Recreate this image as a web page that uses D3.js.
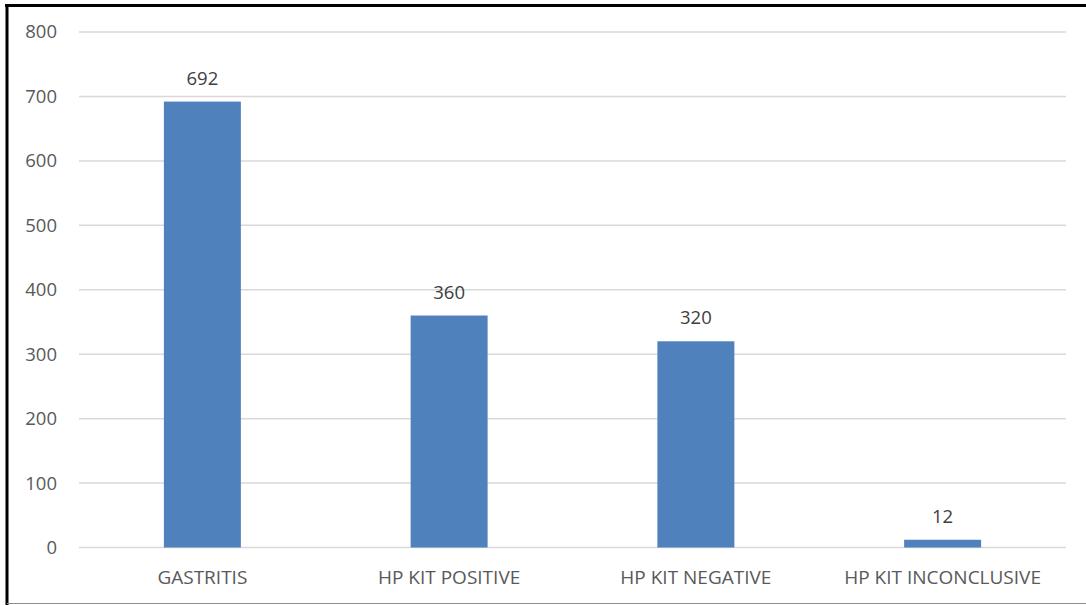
<!DOCTYPE html>
<html>
<head>
<meta charset="utf-8">
<script src="https://cdn.jsdelivr.net/npm/d3@7"></script>
<style>
  html, body { margin: 0; padding: 0; background: #fff; }
  svg { display: block; }
</style>
</head>
<body>
<svg id="chart" width="1086" height="605"></svg>
<script>
// Categories and counts
const categories = ["GASTRITIS", "HP KIT POSITIVE", "HP KIT NEGATIVE", "HP KIT INCONCLUSIVE"];
const counts = [692, 360, 320, 12];
const yTicks = [0, 100, 200, 300, 400, 500, 600, 700, 800];

const W = 1086, H = 605;
const plot = { left: 79, right: 1066, top: 32, bottom: 547.5 };
const font = "'Open Sans', 'Liberation Sans', sans-serif";

const svg = d3.select("#chart");

// Frame around the chart area
svg.append("rect").attr("x", 0).attr("y", 0).attr("width", W).attr("height", H).attr("fill", "#fff");
svg.append("line").attr("x1", 5).attr("x2", 1086).attr("y1", 5.5).attr("y2", 5.5)
  .attr("stroke", "#000").attr("stroke-width", 3);
svg.append("line").attr("x1", 7).attr("x2", 7).attr("y1", 4).attr("y2", 605)
  .attr("stroke", "#000").attr("stroke-width", 3);
svg.append("line").attr("x1", 7).attr("x2", 1086).attr("y1", 603.5).attr("y2", 603.5)
  .attr("stroke", "#8c8c8c").attr("stroke-width", 1);

const x = d3.scaleBand().domain(categories).range([plot.left, plot.right]).padding(0);
const y = d3.scaleLinear().domain([0, 800]).range([plot.bottom, plot.top]);
const barW = x.bandwidth() * 0.312;

// Horizontal gridlines
svg.append("g").selectAll("line").data(yTicks).join("line")
  .attr("x1", plot.left).attr("x2", plot.right)
  .attr("y1", d => y(d)).attr("y2", d => y(d))
  .attr("stroke", "#d9d9d9").attr("stroke-width", 1.5);

// Y axis labels
svg.append("g").selectAll("text").data(yTicks).join("text")
  .attr("x", 57).attr("y", d => y(d))
  .attr("dy", "0.35em").attr("text-anchor", "end")
  .attr("font-family", font).attr("font-size", 18.5).attr("fill", "#595959")
  .text(d => d);

// Bars
svg.append("g").selectAll("rect").data(counts).join("rect")
  .attr("x", (d, i) => x(categories[i]) + x.bandwidth() / 2 - barW / 2)
  .attr("width", barW)
  .attr("y", d => y(d))
  .attr("height", d => y(0) - y(d))
  .attr("fill", "#4f81bd");

// Value labels
svg.append("g").selectAll("text").data(counts).join("text")
  .attr("x", (d, i) => x(categories[i]) + x.bandwidth() / 2)
  .attr("y", d => y(d) - 17)
  .attr("text-anchor", "middle")
  .attr("font-family", font).attr("font-size", 18.5).attr("fill", "#404040")
  .text(d => d);

// Category labels
svg.append("g").selectAll("text").data(categories).join("text")
  .attr("x", d => x(d) + x.bandwidth() / 2)
  .attr("y", 577).attr("dy", "0.35em")
  .attr("text-anchor", "middle")
  .attr("font-family", font).attr("font-size", 19).attr("fill", "#595959")
  .text(d => d);
</script>
</body>
</html>
